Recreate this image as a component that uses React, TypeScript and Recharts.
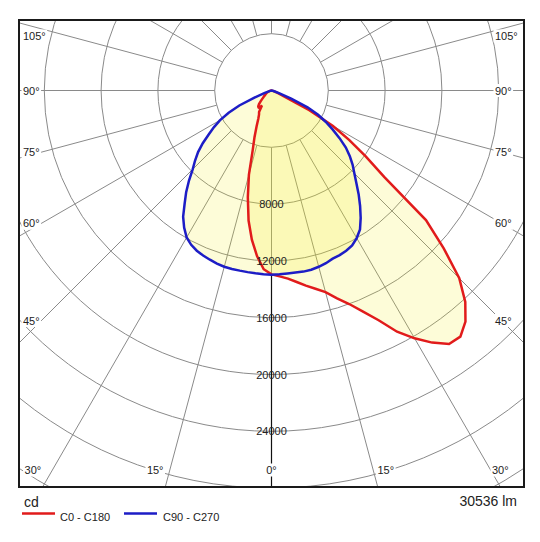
import { PolarAngleAxis, PolarGrid, PolarRadiusAxis, Radar, RadarChart } from "recharts";

// Luminous intensity (cd). GAMMA = angle from nadir in degrees,
// one list per half plane: C0 / C90 to the right, C180 / C270 to the left.
const GAMMA = [
  0, 2.5, 5, 7.5, 10, 12.5, 15, 17.5, 20, 22.5, 25, 27.5, 30, 32.5, 35, 37.5, 40, 42.5, 45, 47.5, 50,
  52.5, 55, 57.5, 60, 62.5, 65, 67.5, 70, 75, 80, 90,
];
const C0 = [
  12950, 13100, 13300, 13600, 13950, 14300, 14700, 15350, 16000, 16850, 17850, 19150, 20150, 21050,
  21800, 21850, 21250, 20200, 18700, 16450, 14200, 10000, 8100, 6500, 5000, 3000, 900, 500, 300, 150,
  50, 0,
];
const C180 = [
  12950, 12600, 11700, 10600, 9300, 7700, 6150, 4400, 3500, 2750, 2200, 1900, 1750, 1250, 1500, 1500,
  1450, 1300, 1100, 900, 750, 650, 550, 500, 450, 400, 350, 300, 250, 150, 80, 0,
];
const C90 = [
  12970, 12950, 12930, 12930, 12950, 12930, 12850, 12750, 12600, 12550, 12450, 12300, 12000, 11600,
  10950, 10250, 9550, 8850, 8250, 7750, 7200, 6600, 5850, 5100, 4400, 3700, 2800, 1500, 600, 150, 0, 0,
];
const C270 = [
  12970, 12950, 12920, 12900, 12880, 12870, 12850, 12780, 12680, 12580, 12450, 12250, 11950, 11450,
  10850, 10050, 9350, 8600, 7850, 7300, 6750, 6100, 5400, 4800, 4200, 3400, 2500, 1300, 500, 100, 0, 0,
];

const RINGS = [4000, 8000, 12000, 16000, 20000, 24000, 28000, 32000];
const RING_LABELS = [8000, 12000, 16000, 20000, 24000];
const SPOKES = [0, 15, 30, 45, 60, 75, 90, 105, 120, 135, 150, 165, 180, 195, 210, 225, 240, 255, 270, 285, 300, 315, 330, 345];
const SIDE_LABELS = [45, 60, 75, 90, 105];
const BOTTOM_LABELS = [0, 15, 30];
const UNIT = "cd";
const LUMENS = "30536 lm";
const SERIES = [
  { name: "C0 - C180", key: "red", color: "#e11b1b" },
  { name: "C90 - C270", key: "blue", color: "#1d1dc6" },
];

// geometry of the framed plot (content box of the frame, page px)
const BOX_X = 20;
const BOX_Y = 21;
const BOX_W = 503;
const BOX_H = 465;
const CX = 251.5;
const CY = 69.5;
const PX_PER_CD = 14.2 / 1000;
const MAX_CD = 36000;
const FONT = '"Liberation Sans", Arial, Helvetica, sans-serif';
const GRID = "#8a8a8a";
const FILL = "#f5eb19";

const rad = (d: number) => (d * Math.PI) / 180;
// gamma from nadir, positive towards the right-hand half
const at = (g: number, r: number) => ({
  x: CX + r * Math.sin(rad(g)),
  y: CY + r * Math.cos(rad(g)),
});

// theta runs counter-clockwise from nadir: right half first, then the left half
const data = [
  ...GAMMA.map((g, i) => ({ theta: g, red: C0[i], blue: C90[i] })),
  ...GAMMA.map((_, i) => GAMMA.length - 1 - i)
    .filter((i) => i > 0)
    .map((i) => ({ theta: 360 - GAMMA[i], red: C180[i], blue: C270[i] })),
];

function Spokes() {
  const r0 = Math.max(C0[0], C90[0], C180[0], C270[0]) * PX_PER_CD;
  const a = at(0, r0);
  const b = at(0, 700);
  return (
    <g>
      {SPOKES.map((g) => {
        const p = at(g, RINGS[0] * PX_PER_CD);
        const q = at(g, 700);
        return <line key={g} x1={p.x} y1={p.y} x2={q.x} y2={q.y} stroke={GRID} strokeWidth={1} />;
      })}
      <line x1={a.x} y1={a.y} x2={b.x} y2={b.y} stroke="#111" strokeWidth={1.2} />
    </g>
  );
}

function BoxLabel({ x, y, text, anchor }: { x: number; y: number; text: string; anchor: "start" | "middle" | "end" }) {
  const w = (text.length - 1) * 6.1 + 4.4;
  const left = anchor === "start" ? x : anchor === "end" ? x - w : x - w / 2;
  return (
    <g>
      <rect x={left - 1.5} y={y - 6.5} width={w + 3} height={13} fill="#fff" />
      <text x={x} y={y} textAnchor={anchor} dominantBaseline="central" fontSize={11} fontFamily={FONT} fill="#222">
        {text}
      </text>
    </g>
  );
}

function AngleLabels() {
  return (
    <g>
      {SIDE_LABELS.map((g) => {
        const y = Math.max(CY + (230 * Math.cos(rad(g))) / Math.sin(rad(g)), 15);
        return (
          <g key={g}>
            <BoxLabel x={3} y={y} text={`${g}°`} anchor="start" />
            <BoxLabel x={475} y={y} text={`${g}°`} anchor="start" />
          </g>
        );
      })}
      {BOTTOM_LABELS.map((g) => {
        if (g === 0) return <BoxLabel key={g} x={CX} y={449} text={`${g}°`} anchor="middle" />;
        const dx = (BOX_H - CY) * Math.tan(rad(g));
        return (
          <g key={g}>
            <BoxLabel x={CX - dx - 2} y={449} text={`${g}°`} anchor="end" />
            <BoxLabel x={Math.min(CX + dx, 472)} y={449} text={`${g}°`} anchor="start" />
          </g>
        );
      })}
    </g>
  );
}

const renderRingTick = (props: any) => {
  const { x, y, payload } = props;
  if (!RING_LABELS.includes(payload.value)) return <g />;
  return (
    <text x={x} y={y} textAnchor="middle" dominantBaseline="central" fontSize={11} fontFamily={FONT} fill="#222">
      {payload.value}
    </text>
  );
};

export default function App() {
  return (
    <div style={{ position: "relative", width: 540, height: 542, background: "#fff" }}>
      <style>{"body{margin:0}"}</style>
      <svg width={540} height={542} style={{ position: "absolute", left: 0, top: 0 }}>
        <text x={24} y={507} fontSize={14} fontFamily={FONT} fill="#222">
          {UNIT}
        </text>
        <text x={517} y={506} fontSize={14} fontFamily={FONT} fill="#222" textAnchor="end">
          {LUMENS}
        </text>
        {SERIES.map((s, i) => (
          <g key={s.key}>
            <line x1={22 + i * 102} x2={55 + i * 102} y1={513.5} y2={513.5} stroke={s.color} strokeWidth={2.5} />
            <text x={60 + i * 103} y={521} fontSize={11} fontFamily={FONT} fill="#222">
              {s.name}
            </text>
          </g>
        ))}
      </svg>
      <div
        style={{
          position: "absolute",
          left: BOX_X - 2,
          top: BOX_Y - 2,
          width: BOX_W,
          height: BOX_H,
          border: "2px solid #1a1a1a",
          overflow: "hidden",
        }}
      >
        <RadarChart
          width={BOX_W}
          height={BOX_H}
          data={data}
          cx={CX}
          cy={CY}
          innerRadius={0}
          outerRadius={MAX_CD * PX_PER_CD}
          startAngle={-90}
          endAngle={270}
          margin={{ top: 0, right: 0, bottom: 0, left: 0 }}
        >
          <PolarGrid
            gridType="circle"
            radialLines={false}
            polarRadius={RINGS.map((v) => v * PX_PER_CD)}
            stroke={GRID}
          />
          <PolarAngleAxis dataKey="theta" type="number" domain={[0, 360]} tick={false} axisLine={false} />
          <Spokes />
          {SERIES.map((s) => (
            <Radar
              key={`fill-${s.key}`}
              dataKey={s.key}
              fill={FILL}
              fillOpacity={0.17}
              stroke="none"
              isAnimationActive={false}
            />
          ))}
          {SERIES.map((s) => (
            <Radar
              key={`line-${s.key}`}
              dataKey={s.key}
              fill="none"
              fillOpacity={0}
              stroke={s.color}
              strokeWidth={2.5}
              isAnimationActive={false}
            />
          ))}
          <PolarRadiusAxis
            angle={-90}
            type="number"
            domain={[0, MAX_CD]}
            ticks={RING_LABELS}
            tick={renderRingTick}
            axisLine={false}
            tickLine={false}
          />
          <AngleLabels />
        </RadarChart>
      </div>
    </div>
  );
}
